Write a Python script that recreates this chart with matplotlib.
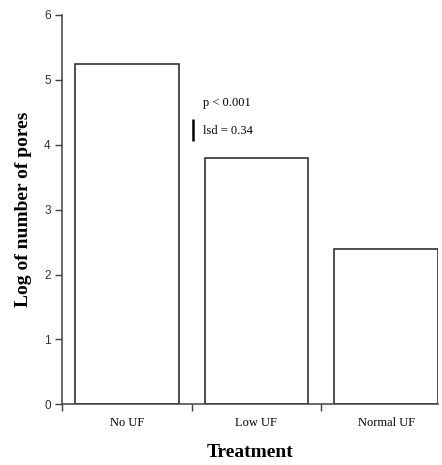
import numpy as np
import matplotlib.pyplot as plt

# data
treatments = ['No UF', 'Low UF', 'Normal UF']
log_pores = [5.25, 3.80, 2.40]
lsd = 0.34
lsd_base = 4.05
y_ticks = [0, 1, 2, 3, 4, 5, 6]

axis_col = '#404040'

fig = plt.figure(figsize=(4.42, 4.65), dpi=100)
ax = fig.add_axes([0.140, 0.1305, 0.851, 0.8375])

x = np.arange(len(treatments))
ax.bar(x, log_pores, width=0.8, color='white', edgecolor='#202020', linewidth=1.1)

# lsd bar and annotation
ax.plot([0.508, 0.508], [lsd_base, lsd_base + lsd], color='black', lw=1.8,
        solid_capstyle='butt')
ax.text(0.585, 4.64, 'p < 0.001', fontsize=9, family='Liberation Serif',
        va='center', ha='left')
ax.text(0.585, 4.21, 'lsd = 0.34', fontsize=9, family='Liberation Serif',
        va='center', ha='left')

ax.set_xlim(-0.5, 2.4)
ax.set_ylim(0, 6)
ax.set_yticks(y_ticks)
ax.set_yticklabels([str(t) for t in y_ticks], family='Liberation Sans',
                   fontsize=8.5, color='#303030')

# category labels without ticks, ticks at boundaries
ax.set_xticks(x)
ax.set_xticklabels(treatments, family='Liberation Serif', fontsize=9)
ax.tick_params(axis='x', which='major', length=0, pad=9)
ax.set_xticks([-0.5, 0.5, 1.5], minor=True)
ax.tick_params(axis='x', which='minor', length=5, color=axis_col, width=1)
ax.tick_params(axis='y', length=5, color=axis_col, width=1, pad=3)

for s in ['top', 'right']:
    ax.spines[s].set_visible(False)
for s in ['left', 'bottom']:
    ax.spines[s].set_color(axis_col)
    ax.spines[s].set_linewidth(1.1)

ax.set_xlabel('Treatment', family='Liberation Serif', fontweight='bold',
              fontsize=14, labelpad=11)
ax.set_ylabel('Log of number of pores', family='Liberation Serif',
              fontweight='bold', fontsize=14, labelpad=9)

fig.savefig('out.png', dpi=100)
